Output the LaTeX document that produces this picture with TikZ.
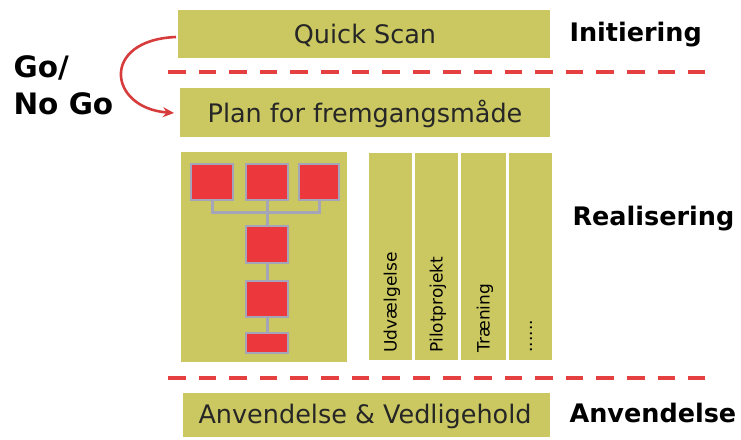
\documentclass[tikz,border=0pt]{standalone}
\usepackage{fontspec}
\setmainfont{DejaVu Sans}
\usetikzlibrary{arrows.meta}
\definecolor{olive}{RGB}{203,200,98}
\definecolor{redbox}{RGB}{236,56,60}
\definecolor{greyln}{RGB}{165,165,185}
\definecolor{dashred}{RGB}{228,64,64}
\definecolor{arrred}{RGB}{214,60,60}
\tikzset{
  band/.style={fill=olive, draw=none},
  bandtext/.style={font=\fontsize{25.5}{27}\selectfont, text=black!85},
  lbl/.style={font=\bfseries\fontsize{25.5}{27}\selectfont, anchor=west},
  sep/.style={draw=dashred, line width=3.5pt, dash pattern=on 17.6pt off 13pt},
  rbox/.style={fill=redbox, draw=greyln, line width=1.5pt},
  conn/.style={draw=greyln, line width=3pt},
  coltext/.style={font=\fontsize{17}{19}\selectfont, rotate=90, anchor=west},
}
\begin{document}
\begin{tikzpicture}[x=1pt,y=-1pt]
\useasboundingbox (0,0) rectangle (741,439);
% bands
\fill[band] (178,10) rectangle (550,58);
\node[bandtext] (qs) at (365,35) {Quick Scan};
\fill[band] (180,88) rectangle (550,137);
\node[bandtext] (plan) at (365,114) {Plan for fremgangsmåde};
\fill[band] (183,393) rectangle (550,437);
\node[bandtext] (anv) at (365,416) {Anvendelse \& Vedligehold};
\coordinate (qsl) at (176,37);
\coordinate (planl) at (174,113);
% separators
\coordinate (s1a) at (168,72); \coordinate (s1b) at (705,72);
\coordinate (s2a) at (168,378); \coordinate (s2b) at (705,378);
\draw[sep] (s1a) -- (s1b);
\draw[sep] (s2a) -- (s2b);
% right labels
\node[lbl] (ini) at (566,35) {Initiering};
\node[lbl] (real) at (569,219) {Realisering};
\node[lbl] (anvl) at (566,413) {Anvendelse};
% Go / No Go
\node[font=\bfseries\fontsize{29.5}{31}\selectfont, anchor=west] (go) at (10,68) {Go/};
\node[font=\bfseries\fontsize{29.5}{31}\selectfont, anchor=west] (nogo) at (10,104) {No Go};
\draw[arrred, line width=2.6pt, -{Stealth[length=11pt,width=10pt]}]
  (qsl) .. controls (100,40) and (108,108) .. (planl);
% tree block
\fill[band] (181,152) rectangle (347,362);
\draw[conn] (212,200) -- (212,212) -- (319,212) -- (319,200);
\draw[conn] (267,200) -- (267,343);
\node[rbox, minimum width=42pt, minimum height=36pt, inner sep=0pt] (b1) at (212,182) {};
\node[rbox, minimum width=42pt, minimum height=36pt, inner sep=0pt] (b2) at (267,182) {};
\node[rbox, minimum width=40pt, minimum height=36pt, inner sep=0pt] (b3) at (319,182) {};
\node[rbox, minimum width=42pt, minimum height=37pt, inner sep=0pt] (b4) at (267,244.5) {};
\node[rbox, minimum width=42pt, minimum height=36pt, inner sep=0pt] (b5) at (267,299) {};
\node[rbox, minimum width=42pt, minimum height=20pt, inner sep=0pt] (b6) at (267,343) {};
% columns
\fill[band] (369,153) rectangle (412,360);
\fill[band] (415,153) rectangle (458,360);
\fill[band] (461,153) rectangle (506,360);
\fill[band] (509,153) rectangle (552,360);
\node[coltext] (c1) at (392,356) {Udvælgelse};
\node[coltext] (c2) at (438,356) {Pilotprojekt};
\node[coltext] (c3) at (485,356) {Træning};
\node[coltext] (c4) at (531,356) {......};
\end{tikzpicture}
\end{document}
